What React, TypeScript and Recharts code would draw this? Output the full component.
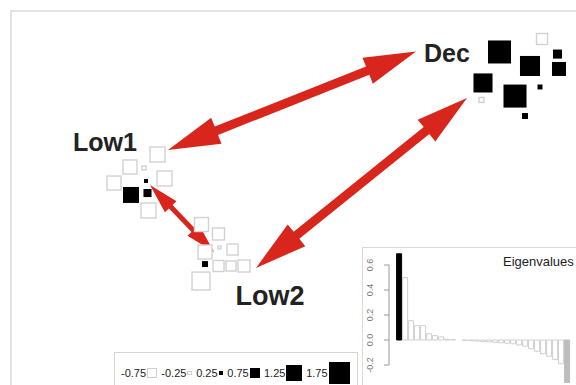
import React from "react";
import { Bar, BarChart, Cell, ReferenceDot, ReferenceLine, Scatter, ScatterChart, XAxis, YAxis } from "recharts";

// ordination scores of the sampled units (axis 1, axis 2) and their loading
const pc1 = [0.798, 0.968, 0.92, 1.03, 1.036, 0.732, 0.96, 0.726, 0.86, 0.9,
  -0.57, -0.68, -0.624, -0.542, -0.616, -0.744, -0.676, -0.61, -0.606,
  -0.394, -0.326, -0.38, -0.322, -0.27, -0.38, -0.326, -0.276, -0.224, -0.396];
const pc2 = [0.803, 0.877, 0.723, 0.791, 0.706, 0.626, 0.603, 0.529, 0.551, 0.437,
  0.217, 0.146, 0.14, 0.08, 0.066, 0.054, -0.014, -0.003, -0.103,
  -0.183, -0.237, -0.34, -0.314, -0.326, -0.409, -0.42, -0.42, -0.42, -0.506];
const loading = [1.91, -0.82, 1.64, 0.64, 1.09, 1.55, 0.27, -0.27, 1.91, 0.36,
  -1.18, -1.09, -0.18, -1.18, 0.18, -1.09, 1.27, 0.55, -1.18,
  -1.09, -0.91, -1.09, -0.09, -0.82, 0.36, -0.82, -0.73, -0.91, -1.45];

const groupNames = ["Dec", "Low1", "Low2"];
const groupX = [0.588, -0.78, -0.12];
const groupY = [0.797, 0.289, -0.591];

// double arrows between groups: [x1, y1, x2, y2]
const arrows = [
  [-0.528, 0.243, 0.464, 0.806],
  [-0.176, -0.431, 0.668, 0.54],
  [-0.6, 0.043, -0.344, -0.34],
];

const eigenvalues = [0.69, 0.5, 0.155, 0.115, 0.115, 0.05, 0.035, 0.025, 0.005, 0.003,
  0.0, -0.003, -0.005, -0.008, -0.012, -0.015, -0.018, -0.022, -0.025, -0.03,
  -0.04, -0.05, -0.07, -0.09, -0.11, -0.13, -0.155, -0.19, -0.34];
const eigenTicks = [-0.2, 0, 0.2, 0.4, 0.6];

const legendValues = [-0.75, -0.25, 0.25, 0.75, 1.25, 1.75];

const font = "'Liberation Sans', Arial, sans-serif";
const side = (v: number) => 2 + 11 * Math.abs(v);

const points = pc1.map((x, i) => ({ x, y: pc2[i], v: loading[i] }));
const eigenData = eigenvalues.map((v, i) => ({ k: String(i + 1), v }));

function Square(props: any) {
  const { cx, cy, payload } = props;
  const s = side(payload.v);
  if (payload.v > 0) return <rect x={cx - s / 2} y={cy - s / 2} width={s} height={s} fill="#000" />;
  return <rect x={cx - s / 2} y={cy - s / 2} width={s} height={s} fill="#fff" stroke="#d2d2d2" strokeWidth={1.4} />;
}

function arrowShape(head: number, half: number, shaft: number) {
  return (p: any) => {
    const { x1, y1, x2, y2 } = p;
    const len = Math.hypot(x2 - x1, y2 - y1);
    const ux = (x2 - x1) / len, uy = (y2 - y1) / len;
    const nx = -uy, ny = ux;
    const pt = (bx: number, by: number, a: number, b: number) => `${bx + ux * a + nx * b},${by + uy * a + ny * b}`;
    const pts = [
      pt(x1, y1, 0, 0), pt(x1, y1, head, half), pt(x1, y1, head, shaft),
      pt(x2, y2, -head, shaft), pt(x2, y2, -head, half), pt(x2, y2, 0, 0),
      pt(x2, y2, -head, -half), pt(x2, y2, -head, -shaft),
      pt(x1, y1, head, -shaft), pt(x1, y1, head, -half),
    ];
    return <polygon points={pts.join(" ")} fill="#d8261d" />;
  };
}

function EigenTick(props: any) {
  const { x, y, payload } = props;
  const tx = x - 12;
  return (
    <text x={tx} y={y} transform={`rotate(-90 ${tx} ${y})`} textAnchor="middle" dominantBaseline="central" fontSize={9} fill="#777" fontFamily={font}>
      {payload.value.toFixed(1)}
    </text>
  );
}

export default function App() {
  return (
    <div style={{ position: "fixed", left: 0, top: 0, width: 576, height: 385, overflow: "hidden", background: "#fff", fontFamily: font }}>
      <div style={{ position: "absolute", left: 10, top: 10, width: 700, height: 500, borderLeft: "2px solid #e3e3e3", borderTop: "2px solid #e3e3e3" }} />
      <div style={{ position: "absolute", left: 0, top: 0 }}>
        <ScatterChart width={576} height={385} margin={{ top: 0, right: 0, bottom: 0, left: 0 }}>
          <XAxis type="number" dataKey="x" domain={[-1.2, 1.104]} allowDataOverflow hide />
          <YAxis type="number" dataKey="y" domain={[-1.1, 1.1]} allowDataOverflow hide />
          <Scatter data={points} shape={Square} isAnimationActive={false} />
          {arrows.map((a, i) => (
            <ReferenceLine
              key={i}
              segment={[{ x: a[0], y: a[1] }, { x: a[2], y: a[3] }]}
              ifOverflow="visible"
              shape={i < 2 ? arrowShape(52, 14, 4.5) : arrowShape(30, 8, 2.5)}
            />
          ))}
          {groupNames.map((name, i) => (
            <ReferenceDot
              key={name}
              x={groupX[i]}
              y={groupY[i]}
              r={0}
              ifOverflow="visible"
              shape={(p: any) => (
                <text x={p.cx} y={p.cy} textAnchor="middle" dominantBaseline="central" fontSize={i === 2 ? 27 : 25} fontWeight="bold" fill="#222" fontFamily={font}>
                  {name}
                </text>
              )}
            />
          ))}
        </ScatterChart>
      </div>

      <div style={{ position: "absolute", left: 114, top: 352, width: 244, height: 42, boxSizing: "border-box", border: "1px solid #d6d6d6", background: "#fff", display: "flex", alignItems: "center", paddingLeft: 6, fontSize: 11, color: "#222" }}>
        {legendValues.map((v) => {
          const s = side(v);
          return (
            <div key={v} style={{ display: "flex", alignItems: "center", marginRight: 4 }}>
              <span>{v.toFixed(2)}</span>
              <span style={{ display: "inline-block", width: s, height: s, marginLeft: 1, boxSizing: "border-box", background: v > 0 ? "#000" : "#fff", border: v > 0 ? "none" : "1px solid #cfcfcf" }} />
            </div>
          );
        })}
      </div>

      <div style={{ position: "absolute", left: 362, top: 247, width: 260, height: 160, boxSizing: "border-box", border: "1.5px solid #d9d9d9", background: "#fff" }} />
      <div style={{ position: "absolute", left: 362, top: 247 }}>
        <BarChart width={214} height={138} data={eigenData} margin={{ top: 3, right: 6, bottom: 0, left: 0 }} barCategoryGap={0.6}>
          <XAxis dataKey="k" hide padding={{ left: 7, right: 0 }} />
          <XAxis xAxisId="line" type="number" domain={[0, 1]} hide />
          <YAxis width={27} domain={[-0.36, 0.72]} ticks={eigenTicks} allowDataOverflow axisLine={false} tickLine={{ stroke: "#999" }} tickSize={5} tick={<EigenTick />} />
          <ReferenceLine xAxisId="line" segment={[{ x: 0, y: 0.6 }, { x: 0, y: -0.2 }]} stroke="#999" ifOverflow="visible" />
          <Bar dataKey="v" isAnimationActive={false}>
            {eigenData.map((d, i) => (
              <Cell key={d.k} fill={i === 0 ? "#000" : i === eigenData.length - 1 ? "#bdbdbd" : "#fff"} stroke={i === 0 ? "#000" : i === eigenData.length - 1 ? "#bdbdbd" : "#cfcfcf"} strokeWidth={1} />
            ))}
          </Bar>
        </BarChart>
      </div>
      <div style={{ position: "absolute", left: 503, top: 254, fontSize: 13, color: "#222", whiteSpace: "nowrap" }}>Eigenvalues</div>
    </div>
  );
}
